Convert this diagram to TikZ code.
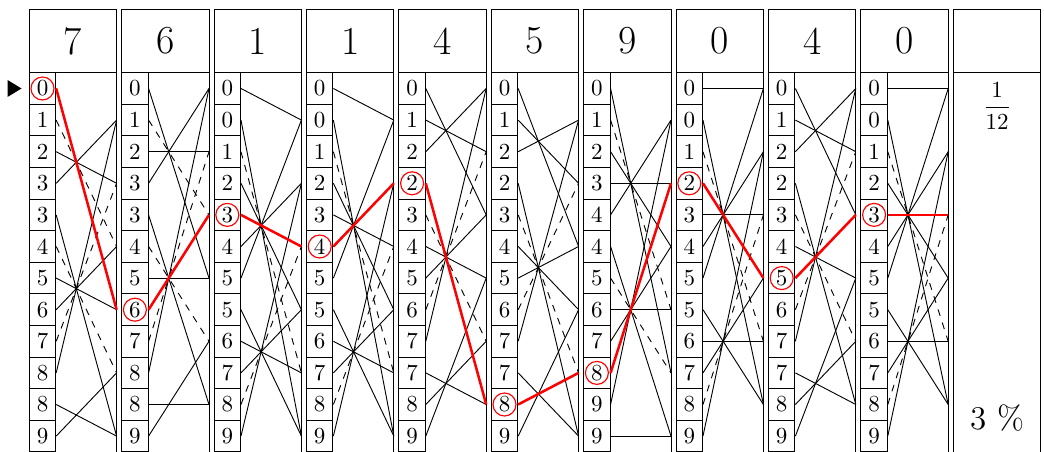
\documentclass[tikz,border=0pt]{standalone}
\usetikzlibrary{positioning}

% which rows get a dashed line, one list per kind of ruler
\def\dashA{{0,1,0,0,0,1,0,0,1,0,0,0}} % rulers 6 and 7
\def\dashB{{0,0,1,0,0,0,0,0,0,0,1,0}} % rulers 0 and 1
\def\dashC{{0,0,0,0,1,0,0,1,0,0,0,0}} % rulers 4 and 5
\def\dashD{{0,1,0,0,0,0,1,0,0,0,0,0}} % ruler 9

\begin{document}
\begin{tikzpicture}[x=0.435pt, y=-0.435pt,
    head/.style={
        draw,
        minimum width=38pt,
        minimum height=27.6pt,
        inner sep=0pt,
        font=\LARGE
    },
    cell/.style={
        draw,
        minimum width=11.5pt,
        minimum height=13.75pt,
        inner sep=0pt
    },
    frame/.style={
        draw
    },
    link/.style={
        line width=0.4pt
    },
    trail/.style={
        draw=red,
        line width=1.1pt
    },
    pick/.style={
        draw=red,
        circle,
        minimum size=10pt,
        inner sep=0pt,
        line width=0.5pt
    }
]
\useasboundingbox (0,0) rectangle (1044,452);

% =====================
% Rulers
% =====================

\foreach \dig/\dsh [count=\col from 0] in {7/\dashA, 6/\dashA, 1/\dashB, 1/\dashB, 4/\dashC, 5/\dashC, 9/\dashD, 0/\dashB, 4/\dashC, 0/\dashB}{
    \pgfmathsetmacro\xl{29.3+92.4*\col}
    \draw[frame] (\xl,72.7) rectangle ++(87.3,400);
    \node[head] (head-\col) at (\xl+43.65,41) {\dig};
    \foreach \row in {0,...,11}{
        \pgfmathtruncatemacro\q{floor((10*\row+\dig)/12)}
        \node[cell] (cell-\col-\row) at (\xl+13.2,88.5+31.6*\row) {\q};
        \coordinate (out-\col-\row) at (\xl+87.3,88.5+31.6*\row);
    }
    \foreach \row in {0,...,11}{
        \pgfmathtruncatemacro\rr{mod(10*\row+\dig,12)}
        \pgfmathtruncatemacro\isdash{\dsh[\row]}
        \ifnum\isdash=1 \def\lsty{dashed}\else\def\lsty{solid}\fi
        \draw[link, \lsty] (cell-\col-\row.east) -- (out-\col-\rr);
    }
}

% =====================
% Remainder ruler
% =====================

\draw[frame] (953.3,72.7) rectangle ++(87.3,400);
\node[head] (head-10) at (997,41) {};
\node (ratio) at (997,106) {$\displaystyle\frac{1}{12}$};
\node[font=\Large] (rest) at (997,418) {3 \%};

% =====================
% Start mark and path
% =====================

\fill[shift={(cell-0-0.west)}] (-21.3,-8.5) -- (-7.3,0) -- (-21.3,8.5) -- cycle;

\foreach \col/\row/\rr in {0/0/7, 1/7/4, 2/4/5, 3/5/3, 4/3/10, 5/10/9, 6/9/3, 7/3/6, 8/6/4, 9/4/4}{
    \node[pick] (pick-\col) at (cell-\col-\row) {};
    \draw[trail] (cell-\col-\row.east) -- (out-\col-\rr);
}

\end{tikzpicture}
\end{document}
